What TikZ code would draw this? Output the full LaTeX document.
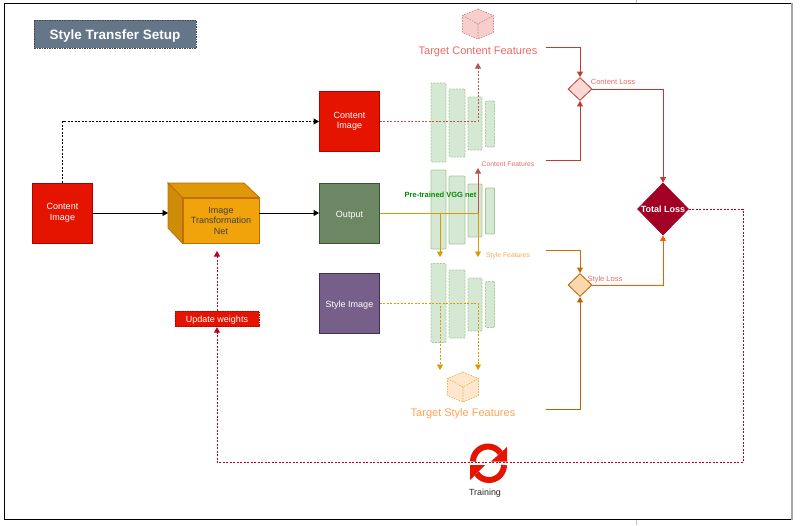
\documentclass[tikz,border=0pt]{standalone}
\usepackage{fontspec}
\setmainfont{Liberation Sans}
\usetikzlibrary{shapes.geometric, arrows.meta}

\definecolor{redfill}{HTML}{E51400}
\definecolor{redline}{HTML}{B20000}
\definecolor{greyfill}{HTML}{647687}
\definecolor{greenfill}{HTML}{6D8764}
\definecolor{greenline}{HTML}{3A5431}
\definecolor{purplefill}{HTML}{76608A}
\definecolor{purpleline}{HTML}{432D57}
\definecolor{amberfill}{HTML}{F0A30A}
\definecolor{amberline}{HTML}{BD7000}
\definecolor{wine}{HTML}{A20025}
\definecolor{vggfill}{HTML}{D5E8D4}
\definecolor{vggline}{HTML}{A6C896}
\definecolor{contentline}{HTML}{B85450}
\definecolor{lossred}{HTML}{C23B32}
\definecolor{styleline}{HTML}{D79B00}
\definecolor{brownline}{HTML}{B46504}
\definecolor{pinktext}{HTML}{EA6B66}
\definecolor{orangetext}{HTML}{FFA352}
\definecolor{cubered}{HTML}{F8CECC}
\definecolor{cubeorange}{HTML}{FFE6CC}
\definecolor{pinkdiamond}{HTML}{FAD9D5}
\definecolor{orangediamond}{HTML}{FAD7AC}

\begin{document}
\begin{tikzpicture}[x=1pt, y=-1pt, line width=0.8pt, >={Triangle[length=5.5pt,width=6pt]}]

    \tikzset{imgblock/.style={%
      draw,%
      rectangle,%
      minimum width=60pt,%
      minimum height=60pt,%
      inner sep=0pt,%
      align=center,%
      text=white,%
      font=\fontsize{9}{10.5}\selectfont,%
      execute at begin node={\rule{0pt}{10pt}}}%
    };

    \tikzset{vgg/.style={draw=vggline, fill=vggfill, rectangle, rounded corners=1pt, inner sep=0pt}};
    \tikzset{vggdash/.style={vgg, dash pattern=on 2pt off 1.2pt}};
    \tikzset{lossdiamond/.style={draw, diamond, aspect=1, inner sep=0pt, minimum width=24pt, minimum height=23pt}};
    \tikzset{feature/.style={inner sep=0pt, font=\fontsize{6.8}{8}\selectfont}};
    \tikzset{target/.style={inner sep=0pt, font=\fontsize{11}{13}\selectfont}};
    \tikzset{dashline/.style={dash pattern=on 2pt off 1.5pt, line width=0.7pt}};
    \tikzset{featcube/.pic={%
      \draw [pic actions] (0,-15) -- (15.5,-8.5) -- (15.5,8.5) -- (0,15) -- (-15.5,8.5) -- (-15.5,-8.5) -- cycle;
      \draw [pic actions, fill=none] (-15.5,-8.5) -- (0,0) -- (15.5,-8.5) (0,0) -- (0,15);}%
    };

    \useasboundingbox (0,0) rectangle (800,525);

    %%%%%%%%%%%%%%%
    %    frame    %
    %%%%%%%%%%%%%%%
    \draw [gray!50, line width=0.6pt] (636,0) -- (636,3) (636,520) -- (636,525);
    \draw [line width=1pt] (792,3.5) -- (4.5,3.5) -- (4.5,519.5) -- (792,519.5);
    \draw [gray!70, line width=1.6pt] (792,3) -- (792,520);

    \node [draw=greyfill!60!black, fill=greyfill, dash pattern=on 1.5pt off 1pt, minimum width=162pt, minimum height=28pt,
      inner sep=0pt, text=white, font=\fontsize{13.5}{15}\selectfont\bfseries,
      execute at begin node={\rule{0pt}{13.5pt}}] (title) at (115,34) {Style Transfer Setup};

    %%%%%%%%%%%%%%%
    %   images    %
    %%%%%%%%%%%%%%%
    \node [imgblock, draw=redline, fill=redfill] (input) at (62.5,213) {Content\\Image};
    \node [imgblock, draw=redline, fill=redfill] (content) at (349.5,121.5) {Content\\Image};
    \node [imgblock, draw=greenline, fill=greenfill] (output) at (349.5,213) {Output};
    \node [imgblock, draw=purpleline, fill=purplefill] (style) at (349.5,303) {Style Image};

    %%%%%%%%%%%%%%%
    %  transform  %
    %%%%%%%%%%%%%%%
    \node [draw=amberline, fill=amberfill, minimum width=76pt, minimum height=45pt, inner sep=0pt, align=center,
      text=black!75, font=\fontsize{9}{10.5}\selectfont,
      execute at begin node={\rule{0pt}{9pt}}] (transnet) at (221,220.5) {Image\\Transformation\\Net};
    \filldraw [draw=amberline, fill=amberfill!93!black] (transnet.north west) -- (168,183) -- (244,183) -- (transnet.north east) -- cycle;
    \filldraw [draw=amberline, fill=amberfill!86!black] (transnet.north west) -- (168,183) -- (168,228) -- (transnet.south west) -- cycle;

    %%%%%%%%%%%%%%%
    %  vgg nets   %
    %%%%%%%%%%%%%%%
    \node [vggdash, minimum width=15pt, minimum height=79pt] (vggca) at (438.5,122.5) {};
    \node [vggdash, minimum width=16pt, minimum height=68pt] (vggcb) at (457,123) {};
    \node [vggdash, minimum width=14pt, minimum height=53pt] (vggcc) at (475,123.5) {};
    \node [vggdash, minimum width=9pt, minimum height=46pt] (vggcd) at (490,124) {};

    \node [vgg, minimum width=15pt, minimum height=79pt] (vggoa) at (438.5,209.5) {};
    \node [vgg, minimum width=16pt, minimum height=68pt] (vggob) at (457,210) {};
    \node [vgg, minimum width=14pt, minimum height=53pt] (vggoc) at (475,210.5) {};
    \node [vgg, minimum width=9pt, minimum height=46pt] (vggod) at (490,211) {};

    \node [vggdash, minimum width=15pt, minimum height=79pt] (vggsa) at (438.5,303) {};
    \node [vggdash, minimum width=16pt, minimum height=68pt] (vggsb) at (457,304) {};
    \node [vggdash, minimum width=14pt, minimum height=53pt] (vggsc) at (475,304.5) {};
    \node [vggdash, minimum width=9pt, minimum height=46pt] (vggsd) at (490,304.5) {};

    %%%%%%%%%%%%%%%
    %  features   %
    %%%%%%%%%%%%%%%
    \pic [draw=contentline!70, fill=cubered, dash pattern=on 1.5pt off 1.2pt, line width=0.6pt] at (478,24) {featcube};
    \pic [draw=styleline!75, fill=cubeorange, dash pattern=on 1.5pt off 1.2pt, line width=0.6pt] at (463,387) {featcube};

    \node [target, text=pinktext] (tcf) at (478,51.5) {Target Content Features};
    \node [target, text=orangetext] (tsf) at (463,413.5) {Target Style Features};
    \node [feature, text=pinktext] (cfeat) at (508,164.5) {Content Features};
    \node [feature, text=orangetext] (sfeat) at (508,256) {Style Features};
    \node [text=green!55!black, inner sep=0pt, font=\fontsize{7.5}{9}\selectfont\bfseries] (vgglabel) at (440.5,195) {Pre-trained VGG net};

    %%%%%%%%%%%%%%%
    %   losses    %
    %%%%%%%%%%%%%%%
    \node [lossdiamond, draw=lossred, fill=pinkdiamond] (closs) at (580,89) {};
    \node [lossdiamond, draw=brownline, fill=orangediamond] (sloss) at (580,285) {};
    \node [draw=wine, fill=wine, diamond, aspect=1, inner sep=0pt, minimum width=51pt, minimum height=52pt] (total) at (663,209) {};
    \node [inner sep=0pt, text=white, font=\fontsize{9}{10}\selectfont\bfseries] (totaltext) at (total) {Total Loss};
    \node [feature, text=pinktext, font=\fontsize{7.5}{9}\selectfont] (clabel) at (613,82) {Content Loss};
    \node [feature, text=pinktext, font=\fontsize{7.5}{9}\selectfont] (slabel) at (605,279.5) {Style Loss};

    %%%%%%%%%%%%%%%
    %  training   %
    %%%%%%%%%%%%%%%
    \node [draw=redline, fill=redfill, dash pattern=on 1.5pt off 1pt, minimum width=84pt, minimum height=15.5pt, inner sep=0pt,
      text=white, font=\fontsize{9}{10.5}\selectfont,
      execute at begin node={\rule{0pt}{9pt}}] (update) at (217,319) {Update weights};
    \node [inner sep=0pt, text=black!85, font=\fontsize{8.9}{10}\selectfont] (training) at (485,493.5) {Training};

    \coordinate (transback) at (168,213);
    \coordinate (cuptip) at (478,63);
    \coordinate (cfeattip) at (478,168);
    \coordinate (osplit) at (440,257);
    \coordinate (ostip) at (478,257);
    \coordinate (stipa) at (440,370);
    \coordinate (stipb) at (478,370);
    \coordinate (tcfout) at (546,47.5);
    \coordinate (cfout) at (546,160.5);
    \coordinate (sfout) at (546,250.5);
    \coordinate (tsfout) at (546,409.5);
    \coordinate (trainturn) at (743,462.5);
    \coordinate (updatetip) at (217,251);

    %%%%%%%%%%%%%%%
    % connections %
    %%%%%%%%%%%%%%%
    \draw [->] (input) -- (transback);
    \draw [->] (transnet.east |- output) -- (output);
    \draw [->, dash pattern=on 2pt off 1.5pt] (input.north) |- (content.west);

    \draw [->, contentline, dashline] (content.east) -| (cuptip);
    \draw [->, contentline] (output.east) -| (cfeattip);
    \draw [->, styleline] (output.east) -| (osplit);
    \draw [->, styleline] (output.east) -| (ostip);
    \draw [->, styleline, dashline] (style.east) -| (stipa);
    \draw [->, styleline, dashline] (style.east) -| (stipb);

    \draw [->, lossred] (tcfout) -| (closs.north);
    \draw [->, lossred] (cfout) -| (closs.south);
    \draw [->, brownline!70!orange] (sfout) -| (sloss.north);
    \draw [->, brownline] (tsfout) -| (sloss.south);
    \draw [->, lossred!90!red] (closs.east) -| (total.north);
    \draw [->, orange!70!red] (sloss.east) -| (total.south);

    \draw [->, wine!70!red, dashline] (total.east) -| (trainturn) -| (update.south);
    \draw [->, wine!70!red, dashline] (update.north) -- (updatetip);

    % refresh icon
    \draw [redfill, line width=6pt] (473,461.5) arc [start angle=180, end angle=35, radius=15pt];
    \fill [redfill] (507,447) -- (507,461.5) -- (491,461.5) -- cycle;
    \draw [redfill, line width=6pt] (504,465) arc [start angle=0, end angle=-145, radius=15pt];
    \fill [redfill] (470,465) -- (485,465) -- (470,480) -- cycle;

\end{tikzpicture}
\end{document}
